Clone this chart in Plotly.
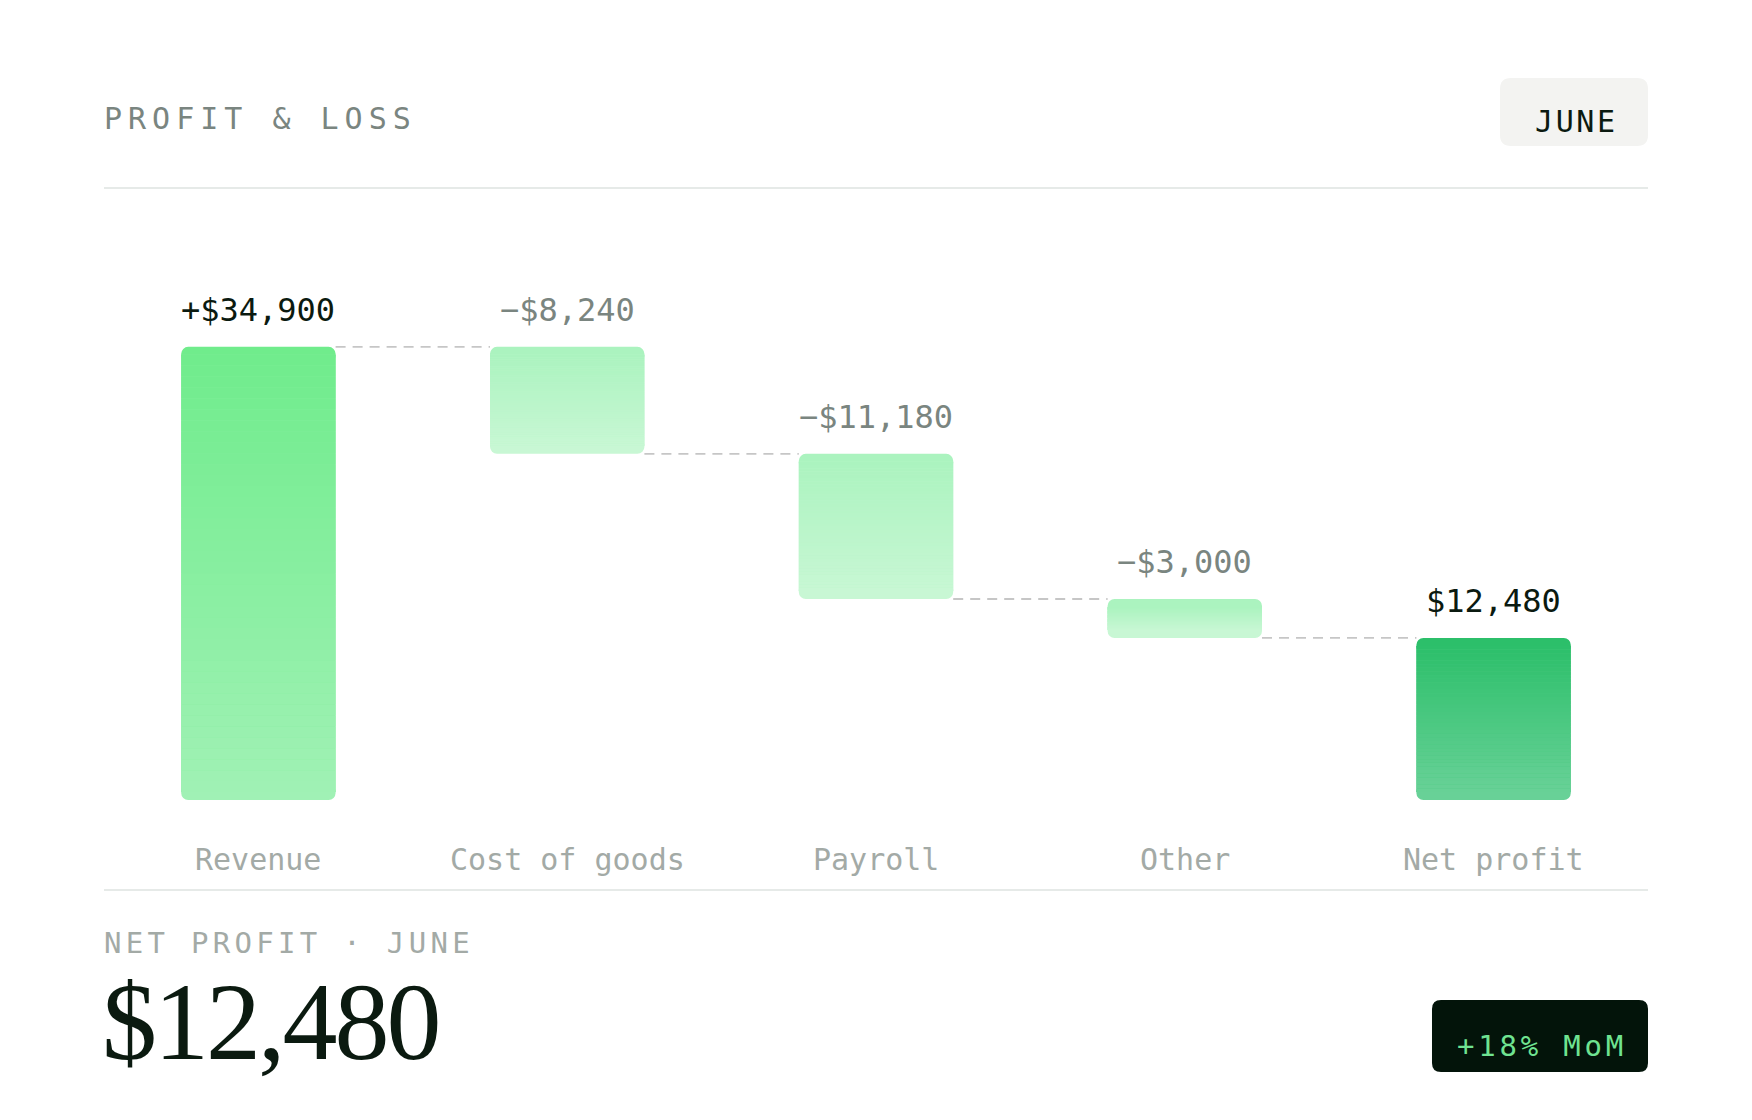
import plotly.graph_objects as go

# chart values
categories = ["Revenue", "Cost of goods", "Payroll", "Other", "Net profit"]
amounts = [34900, -8240, -11180, -3000, 12480]
bar_labels = ["+$34,900", "\u2212$8,240", "\u2212$11,180", "\u2212$3,000", "$12,480"]
is_total = [False, False, False, False, True]

title_text = "PROFIT & LOSS"
period_text = "JUNE"
kpi_caption = "NET PROFIT \u00b7 JUNE"
kpi_value = "$12,480"
badge_text = "+18% MoM"

# styling
W, H = 1752, 1120
PAGE_OFF = 8  # default body margin of the html page
ML, MT = 104 - PAGE_OFF, 230 - PAGE_OFF
PW, PH = 1544, 570
MR, MB = W - ML - PW, H - MT - PH
Y_MAX = 43900
MONO = "DejaVu Sans Mono"
SERIF = "Liberation Serif"
DARK = "#0B1A10"
GRAY = "#7A8580"
LIGHT_GRAY = "#A3AAA6"
RULE = "#E6EAE8"

top_colors = ["#70EC8C", "#ABF3BF", "#ABF3BF", "#ABF3BF", "#2CBF6A"]
bottom_colors = ["#A0F1B5", "#C8F7D4", "#C8F7D4", "#C8F7D4", "#68D197"]
label_colors = [DARK, GRAY, GRAY, GRAY, DARK]


def px(x):
    # page pixel -> paper x
    return (x - PAGE_OFF - ML) / PW


def py(y):
    # page pixel -> paper y
    return (MT + PH - (y - PAGE_OFF)) / PH


def hex_rgb(h):
    h = h.lstrip("#")
    return [int(h[i:i + 2], 16) for i in (0, 2, 4)]


def mix(c0, c1, t):
    a, b = hex_rgb(c0), hex_rgb(c1)
    return "rgb(%d,%d,%d)" % tuple(round(a[i] + (b[i] - a[i]) * t) for i in range(3))


def rounded_rect(x0, y0, x1, y1, r):
    pts = [
        ("M", [(x0 + r, y0)]),
        ("L", [(x1 - r, y0)]), ("Q", [(x1, y0), (x1, y0 + r)]),
        ("L", [(x1, y1 - r)]), ("Q", [(x1, y1), (x1 - r, y1)]),
        ("L", [(x0 + r, y1)]), ("Q", [(x0, y1), (x0, y1 - r)]),
        ("L", [(x0, y0 + r)]), ("Q", [(x0, y0), (x0 + r, y0)]),
    ]
    out = ""
    for cmd, ps in pts:
        out += cmd + " " + " ".join("%.5f,%.5f" % (px(a), py(b)) for a, b in ps) + " "
    return out + "Z"


def spaced(text, px_spacing):
    return '<span style="letter-spacing:%spx">%s</span>' % (px_spacing, text)


# running totals -> bar extents
bottoms, tops, levels = [], [], []
running = 0
for amt, tot in zip(amounts, is_total):
    if tot:
        lo, hi = 0, amt
        running = amt
    elif amt >= 0:
        lo, hi = running, running + amt
        running += amt
    else:
        lo, hi = running + amt, running
        running += amt
    bottoms.append(lo)
    tops.append(hi)
    levels.append(running)

xs = list(range(len(categories)))
r_data = 8 * Y_MAX / PH

fig = go.Figure()

# rounded caps: top cap rounds its top end, bottom cap rounds its bottom end
fig.add_trace(go.Bar(x=xs, y=[2 * r_data] * len(xs), base=[t - 2 * r_data for t in tops],
                     width=0.5, hoverinfo="skip",
                     marker=dict(color=top_colors, cornerradius=7, line_width=0)))
fig.add_trace(go.Bar(x=xs, y=[-2 * r_data] * len(xs), base=[b + 2 * r_data for b in bottoms],
                     width=0.5, hoverinfo="skip",
                     marker=dict(color=bottom_colors, cornerradius=7, line_width=0)))

# plain underlay between the caps, hides seams between gradient slices
fig.add_trace(go.Bar(x=xs, y=[t - b - 2 * r_data for b, t in zip(bottoms, tops)],
                     base=[b + r_data for b in bottoms], width=0.5, hoverinfo="skip",
                     marker=dict(color=[mix(a, b, 0.5) for a, b in zip(top_colors, bottom_colors)],
                                 line_width=0)))

# vertical gradient fill between the caps
n_slices = 40
for k in range(n_slices):
    bases, heights, cols = [], [], []
    for i in xs:
        lo, hi = bottoms[i] + r_data, tops[i] - r_data
        step = (hi - lo) / n_slices
        t = 1 - (k + 0.5) / n_slices
        bases.append(lo + k * step)
        heights.append(step)
        cols.append(mix(top_colors[i], bottom_colors[i], t))
    fig.add_trace(go.Bar(x=xs, y=heights, base=bases, width=0.5,
                         marker=dict(color=cols, line_width=0), hoverinfo="skip"))

# dashed connectors between bars
cx, cy = [], []
for i in range(len(xs) - 1):
    cx += [xs[i] + 0.25, xs[i + 1] - 0.25, None]
    cy += [levels[i], levels[i], None]
fig.add_trace(go.Scatter(x=cx, y=cy, mode="lines", hoverinfo="skip",
                         line=dict(color="#C6C6C6", width=1.8, dash="10px,7px")))

annotations = []
for i in xs:
    annotations.append(dict(x=xs[i], y=tops[i], xref="x", yref="y", text=bar_labels[i],
                            showarrow=False, yanchor="middle", yshift=37,
                            font=dict(family=MONO, size=32, color=label_colors[i])))
    annotations.append(dict(x=xs[i], y=0, xref="x", yref="paper", text=categories[i],
                            showarrow=False, yanchor="middle", yshift=-59,
                            font=dict(family=MONO, size=30, color=LIGHT_GRAY)))

annotations += [
    dict(x=px(102), y=py(118), xref="paper", yref="paper", xanchor="left", yanchor="middle",
         text=spaced(title_text, 6), showarrow=False,
         font=dict(family=MONO, size=30, color=GRAY)),
    dict(x=px(1576), y=py(121), xref="paper", yref="paper", xanchor="center", yanchor="middle",
         text=spaced(period_text, 2.6), showarrow=False,
         font=dict(family=MONO, size=30, color=DARK)),
    dict(x=px(102), y=py(943), xref="paper", yref="paper", xanchor="left", yanchor="middle",
         text=spaced(kpi_caption, 4.3), showarrow=False,
         font=dict(family=MONO, size=29, color=LIGHT_GRAY)),
    dict(x=px(100), y=py(1022), xref="paper", yref="paper", xanchor="left", yanchor="middle",
         text=spaced(kpi_value, -3), showarrow=False,
         font=dict(family=SERIF, size=110, color=DARK)),
    dict(x=px(1542), y=py(1046), xref="paper", yref="paper", xanchor="center", yanchor="middle",
         text=spaced(badge_text, 3.8), showarrow=False,
         font=dict(family=MONO, size=29, color="#6FE391")),
]

shapes = [
    dict(type="line", xref="paper", yref="paper", x0=px(104), x1=px(1648),
         y0=py(188), y1=py(188), line=dict(color=RULE, width=2), layer="below"),
    dict(type="line", xref="paper", yref="paper", x0=px(104), x1=px(1648),
         y0=py(890), y1=py(890), line=dict(color=RULE, width=2), layer="below"),
    dict(type="path", xref="paper", yref="paper", path=rounded_rect(1500, 78, 1648, 146, 11),
         fillcolor="#F3F3F1", line=dict(width=0), layer="below"),
    dict(type="path", xref="paper", yref="paper", path=rounded_rect(1432, 1000, 1648, 1072, 9),
         fillcolor="#03140A", line=dict(width=0), layer="below"),
]

fig.update_layout(
    width=W, height=H,
    margin=dict(l=ML, r=MR, t=MT, b=MB),
    paper_bgcolor="white", plot_bgcolor="white",
    barmode="overlay", showlegend=False,
    xaxis=dict(range=[-0.5, len(xs) - 0.5], visible=False, fixedrange=True),
    yaxis=dict(range=[0, Y_MAX], visible=False, fixedrange=True),
    annotations=annotations, shapes=shapes,
)

fig.write_html("out.html", config={"displayModeBar": False})
